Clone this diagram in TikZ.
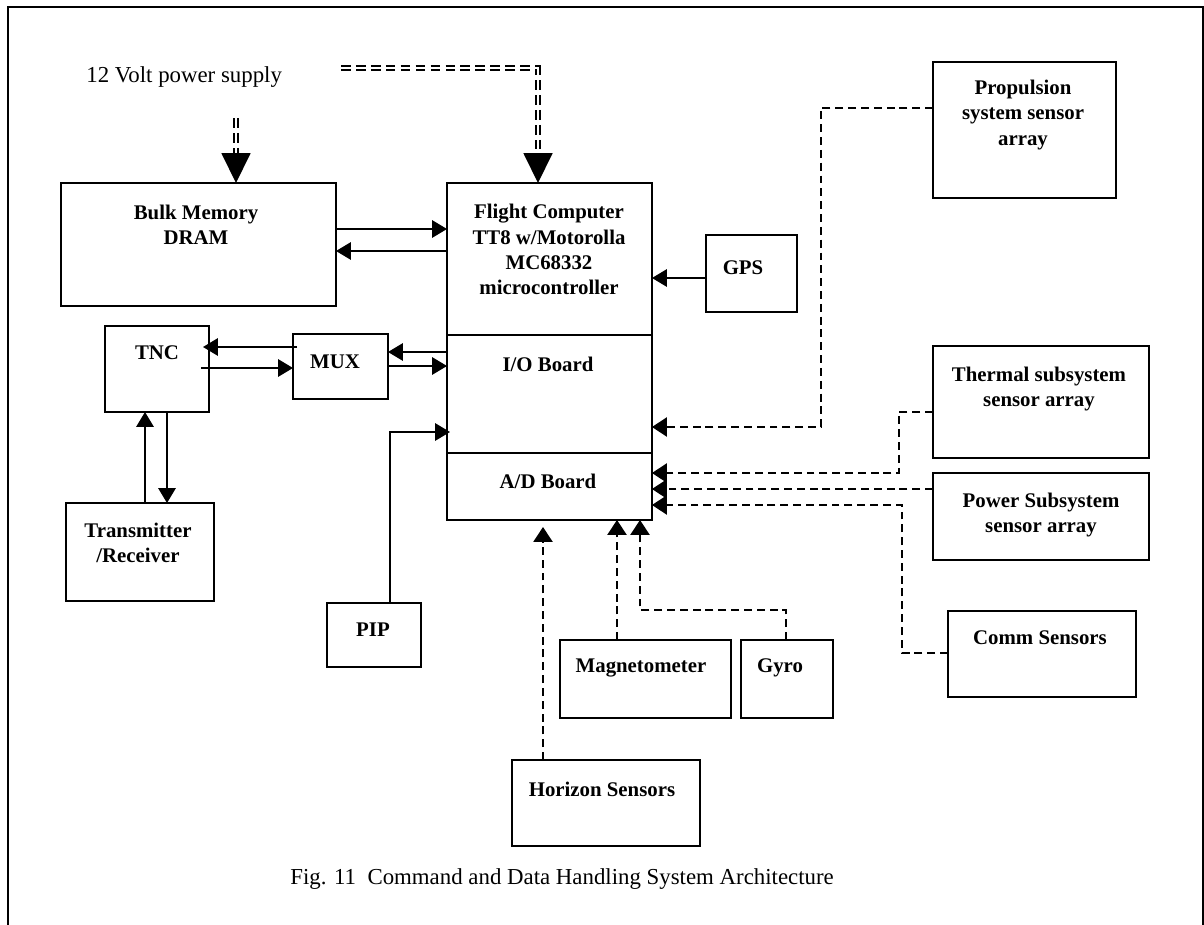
\documentclass[tikz,border=0pt]{standalone}
\usepackage{fontspec}
\setmainfont{Liberation Serif}
\usetikzlibrary{arrows.meta}
\begin{document}
\begin{tikzpicture}[x=0.02cm,y=-0.02cm,
  box/.style={draw, line width=0.9pt, inner sep=0pt, outer sep=0pt},
  pxbox/.style 2 args={minimum width=#1*0.02cm, minimum height=#2*0.02cm},
  lbl/.style={font=\fontsize{11.85}{14.3}\selectfont\bfseries, align=center, inner sep=0pt},
  plaintxt/.style={font=\fontsize{13}{15}\selectfont, inner sep=0pt},
  arr/.style={line width=0.7pt, -{Triangle[length=8.5pt,width=10pt]}},
  darr/.style={line width=0.7pt, dash pattern=on 4.5pt off 2.8pt, -{Triangle[length=8.5pt,width=11pt]}},
  pwr/.style={line width=1.1pt, double, double distance=1pt, dash pattern=on 5.5pt off 3pt},
  bigarr/.style={line width=0.8pt, -{Triangle[length=17pt,width=16.5pt]}},
]
\useasboundingbox (0,0) rectangle (1204,924);
\clip (0,0) rectangle (1204,924);
\draw[line width=1.4pt] (8,960) -- (8,7) -- (1203,7) -- (1203,960);

% boxes
\node[box, pxbox={275}{123}] (bulk)  at (198.5,244.5) {};
\node[box, pxbox={205}{337}] (fc)    at (549.5,351.5) {};
\node[box, pxbox={91}{77}]   (gps)   at (751.5,273.5) {};
\node[box, pxbox={183}{136}] (prop)  at (1024.5,130) {};
\node[box, pxbox={216}{112}] (therm) at (1041,402) {};
\node[box, pxbox={216}{87}]  (power) at (1041,516.5) {};
\node[box, pxbox={188}{86}]  (comm)  at (1042,654) {};
\node[box, pxbox={104}{86}]  (tnc)   at (157,369) {};
\node[box, pxbox={95}{65}]   (mux)   at (340.5,366.5) {};
\node[box, pxbox={148}{98}]  (trx)   at (140,552) {};
\node[box, pxbox={94}{64}]   (pip)   at (374,635) {};
\node[box, pxbox={171}{78}]  (mag)   at (645.5,679) {};
\node[box, pxbox={92}{78}]   (gyro)  at (787,679) {};
\node[box, pxbox={188}{86}]  (horiz) at (606,803) {};
\draw[line width=0.9pt] (fc.west |- 0,335) -- (fc.east |- 0,335);
\draw[line width=0.9pt] (fc.west |- 0,453) -- (fc.east |- 0,453);

% labels
\node[lbl] (bulkt)  at (196,224.5) {Bulk Memory\\DRAM};
\node[lbl] (fct)    at (549,249.5) {Flight Computer\\TT8 w/Motorolla\\MC68332\\microcontroller};
\node[lbl] (iot)    at (548,364) {I/O Board};
\node[lbl] (adt)    at (548,481) {A/D Board};
\node[lbl] (gpst)   at (743,268) {GPS};
\node[lbl] (propt)  at (1023,115) {Propulsion\\system sensor\\array};
\node[lbl] (thermt) at (1039,389) {Thermal subsystem\\sensor array};
\node[lbl] (powert) at (1041,515) {Power Subsystem\\sensor array};
\node[lbl] (commt)  at (1040,638) {Comm Sensors};
\node[lbl] (tnct)   at (157,353) {TNC};
\node[lbl] (muxt)   at (335,362) {MUX};
\node[lbl] (trxt)   at (138,543) {Transmitter\\/Receiver};
\node[lbl] (pipt)   at (373,630) {PIP};
\node[lbl] (magt)   at (641,668) {Magnetometer};
\node[lbl] (gyrot)  at (780,668) {Gyro};
\node[lbl] (horizt) at (602,789) {Horizon Sensors};
\node[plaintxt, anchor=west] (pst) at (86,77) {12 Volt power supply};
\node[plaintxt, anchor=west] (cap) at (290,879) {Fig. 11\ \ Command and Data Handling System Architecture};

% power lines
\coordinate (ps1) at (341,68);
\coordinate (ps2) at (538,153);
\coordinate (ps3) at (236,118);
\coordinate (ps4) at (236,153);
\draw[pwr] (ps1) -| (ps2);
\draw[bigarr] (ps2) -- (fc.north -| ps2);
\draw[pwr] (ps3) -- (ps4);
\draw[bigarr] (ps4) -- (bulk.north -| ps4);

% solid connectors
\draw[arr] (bulk.east |- 0,229) -- (fc.west |- 0,229);
\draw[arr] (fc.west |- 0,251) -- (bulk.east |- 0,251);
\draw[arr] (gps.west |- 0,278) -- (fc.east |- 0,278);
\draw[arr] (fc.west |- 0,352) -- (mux.east |- 0,352);
\draw[arr] (mux.east |- 0,366) -- (fc.west |- 0,366);
\draw[arr, shorten <=-2.3pt, shorten >=-3.4pt] (mux.west |- 0,347) -- (tnc.east |- 0,347);
\draw[arr, shorten <=-4.5pt] (tnc.east |- 0,368) -- (mux.west |- 0,368);
\draw[arr] (trx.north -| 145,0) -- (tnc.south -| 145,0);
\draw[arr] (tnc.south -| 167,0) -- (trx.north -| 167,0);
\draw[arr, shorten >=-1.7pt] (pip.north -| 390,0) |- (fc.west |- 0,432);

% dashed connectors
\draw[darr] (prop.west |- 0,108) -| (821,427) -- (fc.east |- 0,427);
\draw[darr] (therm.west |- 0,412) -| (899,473) -- (fc.east |- 0,473);
\draw[darr] (power.west |- 0,489) -- (fc.east |- 0,489);
\draw[darr] (comm.west |- 0,653) -| (902,505) -- (fc.east |- 0,505);
\draw[darr, shorten >=4pt] (horiz.north -| 543,0) -- (fc.south -| 543,0);
\draw[darr] (mag.north -| 617,0) -- (fc.south -| 617,0);
\draw[darr] (gyro.north -| 786,0) |- (640,610) -- (fc.south -| 640,0);
\end{tikzpicture}
\end{document}
